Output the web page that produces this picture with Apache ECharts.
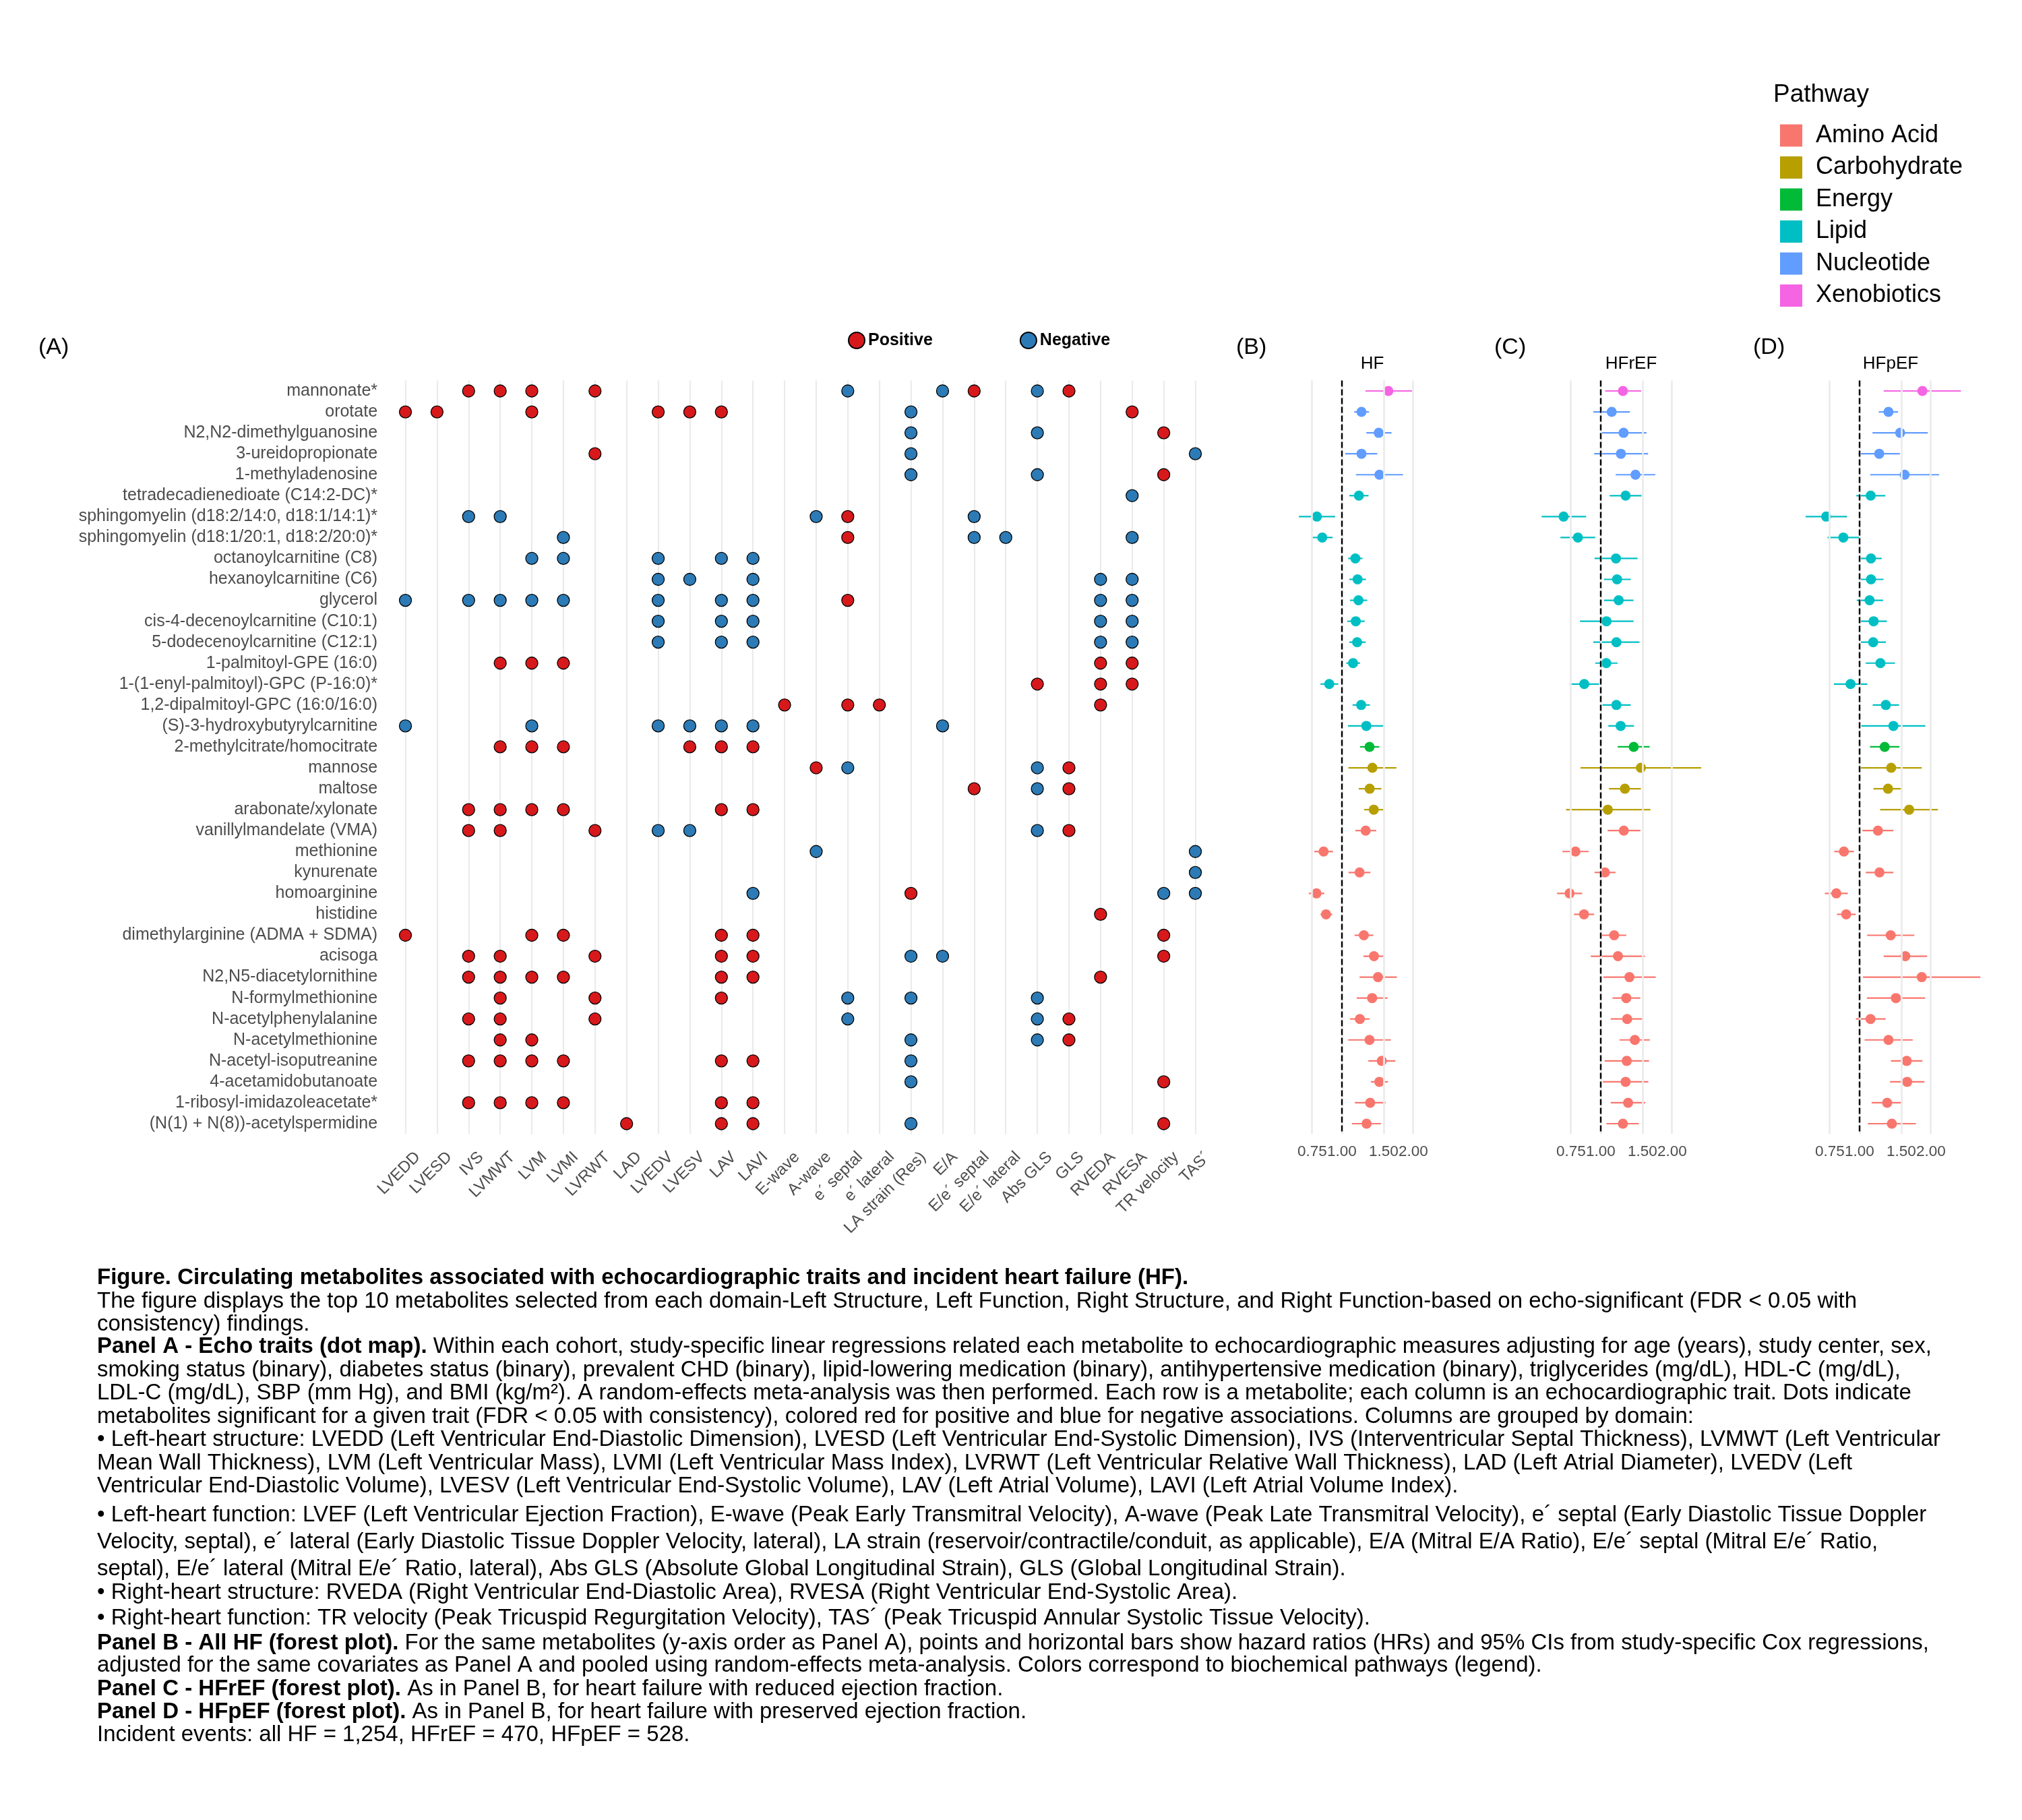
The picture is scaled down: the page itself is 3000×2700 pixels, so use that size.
<!DOCTYPE html>
<html><head><meta charset="utf-8">
<script src="https://cdn.jsdelivr.net/npm/echarts@6/dist/echarts.min.js"></script>
<style>html,body{margin:0;padding:0;background:#fff}#c{width:3000px;height:2700px}</style>
</head><body><div id="c"></div>
<script>
// ---------------- DATA ----------------
const metabolites = [
  'mannonate*','orotate','N2,N2-dimethylguanosine','3-ureidopropionate','1-methyladenosine',
  'tetradecadienedioate (C14:2-DC)*','sphingomyelin (d18:2/14:0, d18:1/14:1)*','sphingomyelin (d18:1/20:1, d18:2/20:0)*',
  'octanoylcarnitine (C8)','hexanoylcarnitine (C6)','glycerol','cis-4-decenoylcarnitine (C10:1)','5-dodecenoylcarnitine (C12:1)',
  '1-palmitoyl-GPE (16:0)','1-(1-enyl-palmitoyl)-GPC (P-16:0)*','1,2-dipalmitoyl-GPC (16:0/16:0)','(S)-3-hydroxybutyrylcarnitine',
  '2-methylcitrate/homocitrate','mannose','maltose','arabonate/xylonate','vanillylmandelate (VMA)','methionine','kynurenate',
  'homoarginine','histidine','dimethylarginine (ADMA + SDMA)','acisoga','N2,N5-diacetylornithine','N-formylmethionine',
  'N-acetylphenylalanine','N-acetylmethionine','N-acetyl-isoputreanine','4-acetamidobutanoate','1-ribosyl-imidazoleacetate*',
  '(N(1) + N(8))-acetylspermidine'
];
const traits = ['LVEDD','LVESD','IVS','LVMWT','LVM','LVMI','LVRWT','LAD','LVEDV','LVESV','LAV','LAVI','E-wave','A-wave',
  'e\u00b4 septal','e\u00b4 lateral','LA strain (Res)','E/A','E/e\u00b4 septal','E/e\u00b4 lateral','Abs GLS','GLS','RVEDA','RVESA','TR velocity','TAS\u00b4'];
const pathways = ['Xenobiotics','Nucleotide','Nucleotide','Nucleotide','Nucleotide',
  'Lipid','Lipid','Lipid','Lipid','Lipid','Lipid','Lipid','Lipid','Lipid','Lipid','Lipid','Lipid',
  'Energy','Carbohydrate','Carbohydrate','Carbohydrate',
  'Amino Acid','Amino Acid','Amino Acid','Amino Acid','Amino Acid','Amino Acid','Amino Acid','Amino Acid',
  'Amino Acid','Amino Acid','Amino Acid','Amino Acid','Amino Acid','Amino Acid','Amino Acid'];
// column indices (into traits) of significant positive / negative associations, per metabolite
const positiveCols = [
  [2,3,4,6,18,21],[0,1,4,8,9,10,23],[24],[6],[24],[],[14],[14],[],[],[14],[],[],[3,4,5,22,23],[20,22,23],[12,14,15,22],[],
  [3,4,5,9,10,11],[13,21],[18,21],[2,3,4,5,10,11],[2,3,6,21],[],[],[16],[22],[0,4,5,10,11,24],[2,3,6,10,11,24],
  [2,3,4,5,10,11,22],[3,6,10],[2,3,6,21],[3,4,21],[2,3,4,5,10,11],[24],[2,3,4,5,10,11],[7,10,11,24]
];
const negativeCols = [
  [14,17,20],[16],[16,20],[16,25],[16,20],[23],[2,3,13,18],[5,18,19,23],[4,5,8,10,11],[8,9,11,22,23],
  [0,2,3,4,5,8,10,11,22,23],[8,10,11,22,23],[8,10,11,22,23],[],[],[],[0,4,8,9,10,11,17],[],[14,20],[20],[],[8,9,20],
  [13,25],[25],[11,24,25],[],[],[16,17],[],[14,16,20],[14,20],[16,20],[16],[16],[],[16]
];
// Panel B - all HF
const hfHR = [1.57,1.21,1.43,1.21,1.44,1.18,0.785,0.827,1.14,1.165,1.175,1.145,1.16,1.115,0.885,1.206,1.268,1.308,1.345,1.31,1.363,1.26,0.838,1.188,0.782,0.858,1.238,1.366,1.42,1.342,1.191,1.308,1.474,1.439,1.316,1.271];
const hfLo = [1.257,1.127,1.268,1.033,1.147,1.075,0.659,0.745,1.063,1.075,1.082,1.054,1.075,1.045,0.813,1.110,1.061,1.193,1.065,1.178,1.241,1.140,0.765,1.068,0.726,0.813,1.132,1.233,1.188,1.155,1.082,1.063,1.293,1.325,1.135,1.103];
const hfHi = [1.974,1.302,1.619,1.411,1.809,1.296,0.937,0.914,1.222,1.263,1.279,1.249,1.260,1.193,0.966,1.313,1.520,1.439,1.698,1.468,1.503,1.396,0.918,1.319,0.844,0.911,1.357,1.516,1.706,1.557,1.310,1.608,1.680,1.563,1.530,1.461];
// Panel C - HFrEF
const hfrefHR = [1.241,1.113,1.249,1.217,1.402,1.274,0.698,0.802,1.160,1.172,1.191,1.058,1.165,1.056,0.853,1.165,1.214,1.378,1.477,1.265,1.072,1.252,0.783,1.042,0.740,0.851,1.140,1.183,1.322,1.282,1.293,1.393,1.288,1.274,1.305,1.241];
const hfrefLo = [1.045,0.931,1.000,0.939,1.157,1.091,0.564,0.677,0.943,1.033,1.033,0.818,0.931,0.949,0.740,1.018,1.077,1.180,0.822,1.084,0.715,1.070,0.690,0.943,0.655,0.772,1.011,0.909,1.027,1.122,1.103,1.201,1.040,1.022,1.103,1.058];
const hfrefHi = [1.481,1.328,1.560,1.584,1.698,1.487,0.868,0.949,1.430,1.339,1.375,1.375,1.458,1.178,0.985,1.339,1.381,1.608,2.650,1.477,1.619,1.471,0.891,1.155,0.836,0.939,1.282,1.536,1.706,1.468,1.516,1.612,1.598,1.588,1.540,1.449];
// Panel D - HFpEF
const hfpefHR = [1.841,1.325,1.484,1.211,1.550,1.115,0.724,0.855,1.118,1.118,1.103,1.147,1.142,1.225,0.917,1.291,1.390,1.277,1.360,1.319,1.619,1.196,0.860,1.214,0.799,0.879,1.354,1.560,1.829,1.424,1.113,1.325,1.581,1.588,1.308,1.369];
const hfpefLo = [1.265,1.206,1.135,0.991,1.110,0.970,0.593,0.734,1.011,0.996,0.974,1.011,1.013,1.063,0.780,1.137,1.018,1.108,1.011,1.145,1.222,1.029,0.783,1.063,0.715,0.804,1.077,1.265,1.035,1.075,0.966,1.051,1.357,1.345,1.125,1.084];
const hfpefHi = [2.673,1.455,1.940,1.481,2.164,1.285,0.887,0.998,1.241,1.263,1.257,1.305,1.293,1.411,1.079,1.468,1.894,1.474,1.829,1.520,2.140,1.390,0.947,1.390,0.893,0.964,1.702,1.928,3.231,1.890,1.288,1.676,1.841,1.878,1.520,1.728];
const forestTicks = [0.75, 1.00, 1.50, 2.00];
const pathwayNames = ['Amino Acid','Carbohydrate','Energy','Lipid','Nucleotide','Xenobiotics'];
const panelTitles = ['HF','HFrEF','HFpEF'];
const panelLetters = ['(A)','(B)','(C)','(D)'];
const captionLines = [
  '{b|Figure. Circulating metabolites associated with echocardiographic traits and incident heart failure (HF).}',
  'The figure displays the top 10 metabolites selected from each domain-Left Structure, Left Function, Right Structure, and Right Function-based on echo-significant (FDR < 0.05 with',
  'consistency) findings.',
  '{b|Panel A - Echo traits (dot map).} Within each cohort, study-specific linear regressions related each metabolite to echocardiographic measures adjusting for age (years), study center, sex,',
  'smoking status (binary), diabetes status (binary), prevalent CHD (binary), lipid-lowering medication (binary), antihypertensive medication (binary), triglycerides (mg/dL), HDL-C (mg/dL),',
  'LDL-C (mg/dL), SBP (mm Hg), and BMI (kg/m\u00b2). A random-effects meta-analysis was then performed. Each row is a metabolite; each column is an echocardiographic trait. Dots indicate',
  'metabolites significant for a given trait (FDR < 0.05 with consistency), colored red for positive and blue for negative associations. Columns are grouped by domain:',
  '\u2022 Left-heart structure: LVEDD (Left Ventricular End-Diastolic Dimension), LVESD (Left Ventricular End-Systolic Dimension), IVS (Interventricular Septal Thickness), LVMWT (Left Ventricular',
  'Mean Wall Thickness), LVM (Left Ventricular Mass), LVMI (Left Ventricular Mass Index), LVRWT (Left Ventricular Relative Wall Thickness), LAD (Left Atrial Diameter), LVEDV (Left',
  'Ventricular End-Diastolic Volume), LVESV (Left Ventricular End-Systolic Volume), LAV (Left Atrial Volume), LAVI (Left Atrial Volume Index).',
  '\u2022 Left-heart function: LVEF (Left Ventricular Ejection Fraction), E-wave (Peak Early Transmitral Velocity), A-wave (Peak Late Transmitral Velocity), e\u00b4 septal (Early Diastolic Tissue Doppler',
  'Velocity, septal), e\u00b4 lateral (Early Diastolic Tissue Doppler Velocity, lateral), LA strain (reservoir/contractile/conduit, as applicable), E/A (Mitral E/A Ratio), E/e\u00b4 septal (Mitral E/e\u00b4 Ratio,',
  'septal), E/e\u00b4 lateral (Mitral E/e\u00b4 Ratio, lateral), Abs GLS (Absolute Global Longitudinal Strain), GLS (Global Longitudinal Strain).',
  '\u2022 Right-heart structure: RVEDA (Right Ventricular End-Diastolic Area), RVESA (Right Ventricular End-Systolic Area).',
  '\u2022 Right-heart function: TR velocity (Peak Tricuspid Regurgitation Velocity), TAS\u00b4 (Peak Tricuspid Annular Systolic Tissue Velocity).',
  '{b|Panel B - All HF (forest plot).} For the same metabolites (y-axis order as Panel A), points and horizontal bars show hazard ratios (HRs) and 95% CIs from study-specific Cox regressions,',
  'adjusted for the same covariates as Panel A and pooled using random-effects meta-analysis. Colors correspond to biochemical pathways (legend).',
  '{b|Panel C - HFrEF (forest plot).} As in Panel B, for heart failure with reduced ejection fraction.',
  '{b|Panel D - HFpEF (forest plot).} As in Panel B, for heart failure with preserved ejection fraction.',
  'Incident events: all HF = 1,254, HFrEF = 470, HFpEF = 528.'
];

// ---------------- STYLE / LAYOUT ----------------
const FONT = '"Liberation Sans", Arial, Helvetica, sans-serif';
const pathwayColors = {'Amino Acid':'#F8766D','Carbohydrate':'#B79F00','Energy':'#00BA38','Lipid':'#00BFC4','Nucleotide':'#619CFF','Xenobiotics':'#F564E3'};
const POS_COLOR = '#D7191C', NEG_COLOR = '#2C7BB6', GRID_COLOR = '#EBEBEB', TXT_GRAY = '#4D4D4D';
const rowBand = 31.057;
const gridTop = 580 - rowBand / 2, gridH = rowBand * metabolites.length;
const colBand = 46.88;
const gridAleft = 601.5 - colBand / 2, gridAW = colBand * traits.length;
const forestLeft = [1889.9, 2273.9, 2657.9], forestW = 293.7;
const captionY = [1896,1931,1965,1998,2033,2067,2102,2136,2171,2205,2248,2288,2328,2363,2401,2438,2471,2506,2540,2574];
const letterX = [57, 1834, 2217, 2601];
const titleX = [2036, 2420, 2805];

// forest x range (log scale, 5% expansion as ggplot)
const allLo = hfLo.concat(hfrefLo, hfpefLo), allHi = hfHi.concat(hfrefHi, hfpefHi);
const lnMin = Math.log(Math.min.apply(null, allLo)), lnMax = Math.log(Math.max.apply(null, allHi));
const pad = (lnMax - lnMin) * 0.05;
const xMin = lnMin - pad, xMax = lnMax + pad;

const grids = [{left: gridAleft, top: gridTop, width: gridAW, height: gridH}];
forestLeft.forEach(l => grids.push({left: l, top: gridTop, width: forestW, height: gridH}));

const xAxes = [{
  type: 'category', gridIndex: 0, data: traits, boundaryGap: true,
  axisLine: {show: false}, axisTick: {show: false}, splitLine: {show: false},
  axisLabel: {interval: 0, rotate: 45, margin: 12, color: TXT_GRAY, fontSize: 24, fontFamily: FONT,
              verticalAlign: 'top', padding: [14, 0, 0, 0]}
}];
const yAxes = [{
  type: 'category', gridIndex: 0, data: metabolites, inverse: true, boundaryGap: true,
  axisLine: {show: false}, axisTick: {show: false}, splitLine: {show: false},
  axisLabel: {interval: 0, margin: 18, color: TXT_GRAY, fontSize: 25, fontFamily: FONT}
}];
for (let g = 1; g <= 3; g++) {
  xAxes.push({
    type: 'value', gridIndex: g, min: xMin, max: xMax,
    axisLine: {show: false}, splitLine: {show: false},
    axisTick: {show: false, customValues: forestTicks.map(Math.log)},
    axisLabel: {customValues: forestTicks.map(Math.log), formatter: v => Math.exp(v).toFixed(2),
                color: TXT_GRAY, fontSize: 22.5, fontFamily: FONT, margin: 15, showMinLabel: true, showMaxLabel: true}
  });
  yAxes.push({
    type: 'category', gridIndex: g, data: metabolites, inverse: true, boundaryGap: true, show: false
  });
}

const series = [];
// Panel A grid lines
series.push({
  type: 'scatter', xAxisIndex: 0, yAxisIndex: 0, data: [], silent: true, z: 1,
  markLine: {silent: true, symbol: ['none', 'none'], label: {show: false}, emphasis: {disabled: true}, animation: false,
    lineStyle: {color: GRID_COLOR, width: 2.2, type: 'solid'},
    data: traits.map((t, i) => ({xAxis: i}))}
});
function dotData(cols) {
  const out = [];
  cols.forEach((list, r) => list.forEach(c => out.push([c, r])));
  return out;
}
series.push({name: 'Positive', type: 'scatter', xAxisIndex: 0, yAxisIndex: 0, z: 5, symbolSize: 18,
  itemStyle: {color: POS_COLOR, borderColor: '#000', borderWidth: 1.3, opacity: 1}, data: dotData(positiveCols)});
series.push({name: 'Negative', type: 'scatter', xAxisIndex: 0, yAxisIndex: 0, z: 5, symbolSize: 18,
  itemStyle: {color: NEG_COLOR, borderColor: '#000', borderWidth: 1.3, opacity: 1}, data: dotData(negativeCols)});

const forestSets = [[hfHR, hfLo, hfHi], [hfrefHR, hfrefLo, hfrefHi], [hfpefHR, hfpefLo, hfpefHi]];
forestSets.forEach((set, k) => {
  const g = k + 1;
  const [hr, lo, hi] = set;
  // grid lines
  series.push({type: 'scatter', xAxisIndex: g, yAxisIndex: g, data: [], silent: true, z: 1,
    markLine: {silent: true, symbol: ['none', 'none'], label: {show: false}, emphasis: {disabled: true}, animation: false,
      lineStyle: {color: GRID_COLOR, width: 2.7, type: 'solid'},
      data: forestTicks.map(t => ({xAxis: Math.log(t)}))}});
  // CI segments
  series.push({type: 'custom', xAxisIndex: g, yAxisIndex: g, z: 2, silent: true,
    encode: {x: [0, 1], y: 2},
    data: metabolites.map((m, i) => [Math.log(lo[i]), Math.log(hi[i]), i]),
    renderItem: (params, api) => {
      const p1 = api.coord([api.value(0), api.value(2)]);
      const p2 = api.coord([api.value(1), api.value(2)]);
      return {type: 'line', shape: {x1: p1[0], y1: p1[1], x2: p2[0], y2: p2[1]},
        style: {stroke: pathwayColors[pathways[params.dataIndex]], lineWidth: 2.2}};
    }});
  // reference line at HR = 1
  series.push({type: 'scatter', xAxisIndex: g, yAxisIndex: g, data: [], silent: true, z: 3,
    markLine: {silent: true, symbol: ['none', 'none'], label: {show: false}, emphasis: {disabled: true}, animation: false,
      lineStyle: {color: '#000', width: 2.4, type: [9, 4]},
      data: [{xAxis: Math.log(1)}]}});
  // points by pathway
  pathwayNames.forEach(p => {
    const d = [];
    metabolites.forEach((m, i) => { if (pathways[i] === p) d.push([Math.log(hr[i]), i]); });
    series.push({name: p, type: 'scatter', xAxisIndex: g, yAxisIndex: g, z: 4, symbolSize: 15,
      itemStyle: {color: pathwayColors[p], opacity: 1}, data: d});
  });
});

const graphics = [];
panelLetters.forEach((t, i) => graphics.push({type: 'text', x: letterX[i], y: 516,
  style: {text: t, fontSize: 34, fontFamily: FONT, fill: '#000', verticalAlign: 'middle', align: 'left'}}));
panelTitles.forEach((t, i) => graphics.push({type: 'text', x: titleX[i], y: 540,
  style: {text: t, fontSize: 26, fontFamily: FONT, fill: '#000', verticalAlign: 'middle', align: 'center'}}));
graphics.push({type: 'text', x: 2631, y: 141,
  style: {text: 'Pathway', fontSize: 37, fontFamily: FONT, fill: '#000', verticalAlign: 'middle', align: 'left'}});
captionLines.forEach((t, i) => graphics.push({type: 'text', x: 144, y: captionY[i],
  style: {text: t, fontSize: 33, fontFamily: FONT, fill: '#000', verticalAlign: 'middle', align: 'left',
    rich: {b: {fontSize: 33, fontFamily: FONT, fontWeight: 'bold', fill: '#000'}}}}));

const chart = echarts.init(document.getElementById('c'), null, {renderer: 'canvas'});
chart.setOption({
  backgroundColor: '#fff',
  animation: false,
  textStyle: {fontFamily: FONT},
  grid: grids,
  xAxis: xAxes,
  yAxis: yAxes,
  legend: [
    {data: ['Positive', 'Negative'], left: 1253, top: 487, orient: 'horizontal', icon: 'circle',
     itemWidth: 24, itemHeight: 24, itemGap: 129, selectedMode: false,
     textStyle: {fontSize: 25, fontWeight: 'bold', color: '#000', fontFamily: FONT}},
    {data: pathwayNames, left: 2636, top: 178, orient: 'vertical', icon: 'rect',
     itemWidth: 33, itemHeight: 33, itemGap: 11.5, selectedMode: false,
     textStyle: {fontSize: 36, color: '#000', fontFamily: FONT, padding: [0, 0, 0, 15]}}
  ],
  series: series,
  graphic: graphics
});
</script></body></html>
